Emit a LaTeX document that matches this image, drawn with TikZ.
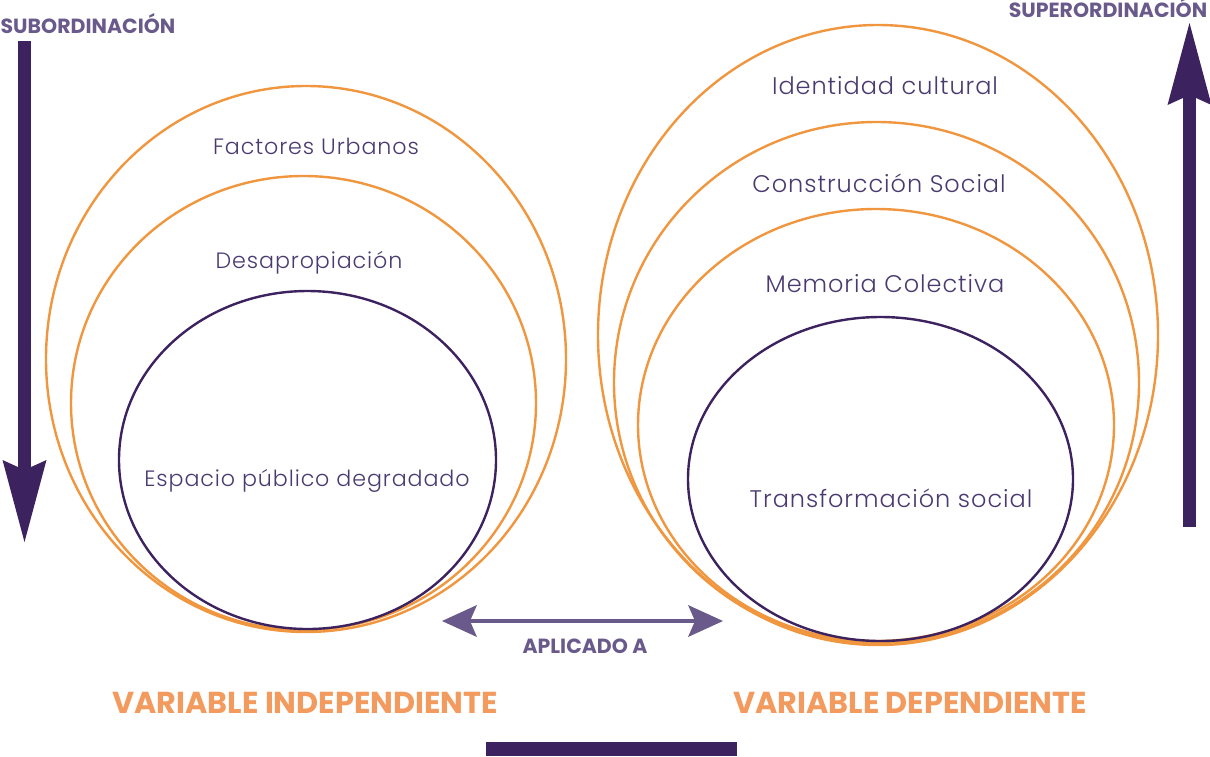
\documentclass[tikz,border=0pt]{standalone}
\usepackage{fontspec}
\setmainfont{Poppins}[UprightFont=* Light, BoldFont=* Bold]
\usetikzlibrary{arrows.meta,positioning}
\definecolor{ringorange}{HTML}{F0963F}
\definecolor{deeppurple}{HTML}{3D2260}
\definecolor{tagpurple}{HTML}{6A5A8C}
\definecolor{textpurple}{HTML}{4A3A70}
\definecolor{varorange}{HTML}{F39A5E}

\begin{document}
\begin{tikzpicture}
[x=1pt,y=-1pt,
ring/.style={draw=ringorange,line width=2.4pt},
core/.style={draw=deeppurple,line width=2.4pt},
lbl/.style={anchor=base,text=textpurple,font=\fontsize{22.2}{26}\selectfont\addfontfeature{LetterSpace=4}},
biglbl/.style={lbl,font=\fontsize{24}{28}\selectfont\addfontfeature{LetterSpace=4}},
tag/.style={anchor=base,text=tagpurple,font=\bfseries\fontsize{20.5}{24}\selectfont},
varlbl/.style={anchor=base,text=varorange,font=\bfseries\fontsize{30.3}{36}\selectfont},
bigarrow/.style={draw=deeppurple,line width=13pt,
  -{Stealth[length=82pt,width=44pt,inset=10pt,line width=0pt]}},
dedge/.style={draw=tagpurple,line width=4pt,
  {Stealth[length=35pt,width=32pt,inset=7pt,line width=0pt]}-{Stealth[length=35pt,width=32pt,inset=7pt,line width=0pt]}}]

\useasboundingbox (0,0) rectangle (1210,756);

% subordination arrow
\node[tag] (sub) at (88,33) {SUBORDINACIÓN};
\coordinate (subtop) at (24.5,41);
\coordinate (subtip) at (24.5,542);
\draw[bigarrow] (subtop) -- (subtip);

% independent variable
\draw[ring] (306,359) ellipse [x radius=260pt, y radius=273pt];
\draw[ring] (303.5,403) ellipse [x radius=232.5pt, y radius=227pt];
\draw[core] (307.5,460) ellipse [x radius=188.5pt, y radius=169pt];
\node[lbl] (urb) at (316,154) {Factores Urbanos};
\node[lbl] (desap) at (309,268) {Desapropiación};
\node[lbl] (esp) at (307,486) {Espacio público degradado};
\node[varlbl] (vind) at (305,713) {VARIABLE INDEPENDIENTE};

% dependent variable
\draw[ring] (878,335) ellipse [x radius=280pt, y radius=310pt];
\draw[ring] (876.5,382.5) ellipse [x radius=262.5pt, y radius=260.5pt];
\draw[ring] (876,425) ellipse [x radius=238pt, y radius=216pt];
\draw[core] (880.5,479) ellipse [x radius=192.5pt, y radius=162pt];
\node[biglbl] (ident) at (885,94) {Identidad cultural};
\node[biglbl] (constr) at (879,192) {Construcción Social};
\node[biglbl] (mem) at (885,292) {Memoria Colectiva};
\node[biglbl] (transf) at (891,507) {Transformación social};
\node[varlbl] (vdep) at (910,713) {VARIABLE DEPENDIENTE};

% superordination arrow
\node[tag] (sup) at (1108,17) {SUPERORDINACIÓN};
\coordinate (supbot) at (1189.5,527);
\coordinate (suptip) at (1189.5,23);
\draw[bigarrow] (supbot) -- (suptip);

% link between both
\coordinate (linkl) at (442,621);
\coordinate (linkr) at (723,621);
\draw[dedge] (linkl) -- (linkr);
\node[tag] (apl) at (585,653) {APLICADO A};

\fill[deeppurple] (486,742) rectangle (737,756);
\end{tikzpicture}
\end{document}
